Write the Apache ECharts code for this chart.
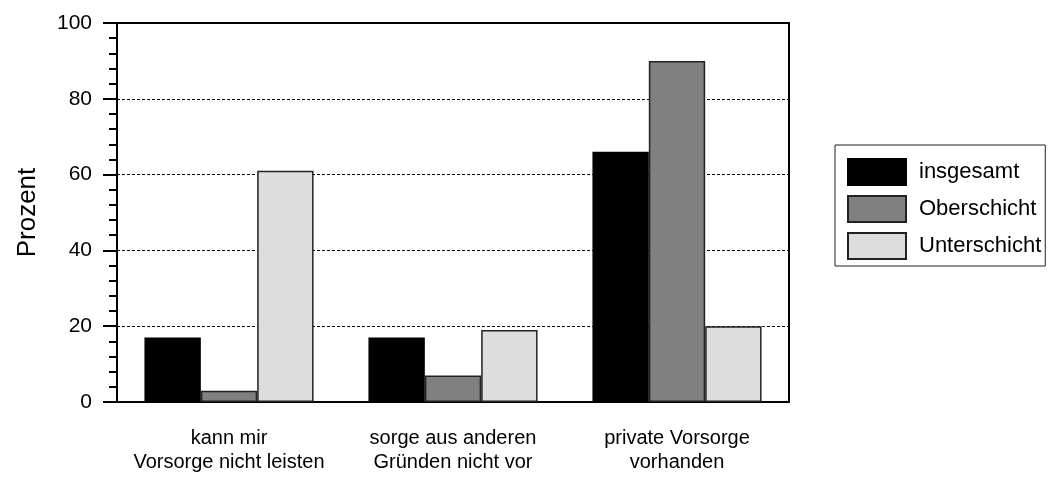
<!DOCTYPE html>
<html>
<head>
<meta charset="utf-8">
<script src="https://cdn.jsdelivr.net/npm/echarts@6/dist/echarts.min.js"></script>
<style>
html,body{margin:0;padding:0;background:#fff;}
#chart{width:1049px;height:480px;}
</style>
</head>
<body>
<div id="chart"></div>
<script>
const categories = ['kann mir\nVorsorge nicht leisten', 'sorge aus anderen\nGründen nicht vor', 'private Vorsorge\nvorhanden'];
const seriesNames = ['insgesamt', 'Oberschicht', 'Unterschicht'];
const insgesamt = [17, 17, 66];
const oberschicht = [3, 7, 90];
const unterschicht = [61, 19, 20];
const yTicks = [0, 20, 40, 60, 80, 100];

const fills = ['#000000', '#808080', '#dddddd'];
const borders = ['#000000', '#222222', '#222222'];
const values = [insgesamt, oberschicht, unterschicht];
const FONT = 'Liberation Sans, Arial, sans-serif';

const chart = echarts.init(document.getElementById('chart'), null, {renderer: 'canvas'});
chart.setOption({
  backgroundColor: '#ffffff',
  animation: false,
  textStyle: {fontFamily: FONT, color: '#000'},
  grid: {left: 117, right: 260, top: 23, bottom: 78, show: true, borderColor: '#000', borderWidth: 2, backgroundColor: 'transparent'},
  legend: {
    orient: 'vertical', left: 835, top: 145,
    itemWidth: 58, itemHeight: 26, itemGap: 9,
    padding: [13, 4, 6, 12],
    borderColor: '#222', borderWidth: 1,
    icon: 'rect',
    textStyle: {fontFamily: FONT, fontSize: 22, color: '#000', padding: [0, 0, 0, 8]},
    data: seriesNames
  },
  xAxis: {
    type: 'category', data: categories,
    axisLine: {lineStyle: {color: '#000', width: 2}},
    axisTick: {show: false},
    axisLabel: {fontFamily: FONT, fontSize: 20, color: '#000', lineHeight: 24, margin: 24, interval: 0}
  },
  yAxis: {
    type: 'value', min: yTicks[0], max: yTicks[yTicks.length - 1], interval: 20,
    name: 'Prozent', nameLocation: 'middle', nameGap: 76, nameRotate: 90,
    nameTextStyle: {fontFamily: FONT, fontSize: 26, color: '#000'},
    axisLine: {show: true, lineStyle: {color: '#000', width: 2}},
    axisTick: {show: true, inside: false, length: 14, lineStyle: {color: '#000', width: 2}},
    minorTick: {show: true, splitNumber: 5, length: 8, lineStyle: {color: '#000', width: 2}},
    axisLabel: {fontFamily: FONT, fontSize: 21, color: '#000', margin: 25},
    splitLine: {show: true, lineStyle: {color: '#000', type: [3, 2], width: 1}}
  },
  series: seriesNames.map((name, i) => ({
    name: name, type: 'bar', data: values[i],
    barGap: '0%', barCategoryGap: '24.5%',
    itemStyle: {color: fills[i], borderColor: borders[i], borderWidth: 1.5}
  }))
});
</script>
</body>
</html>
